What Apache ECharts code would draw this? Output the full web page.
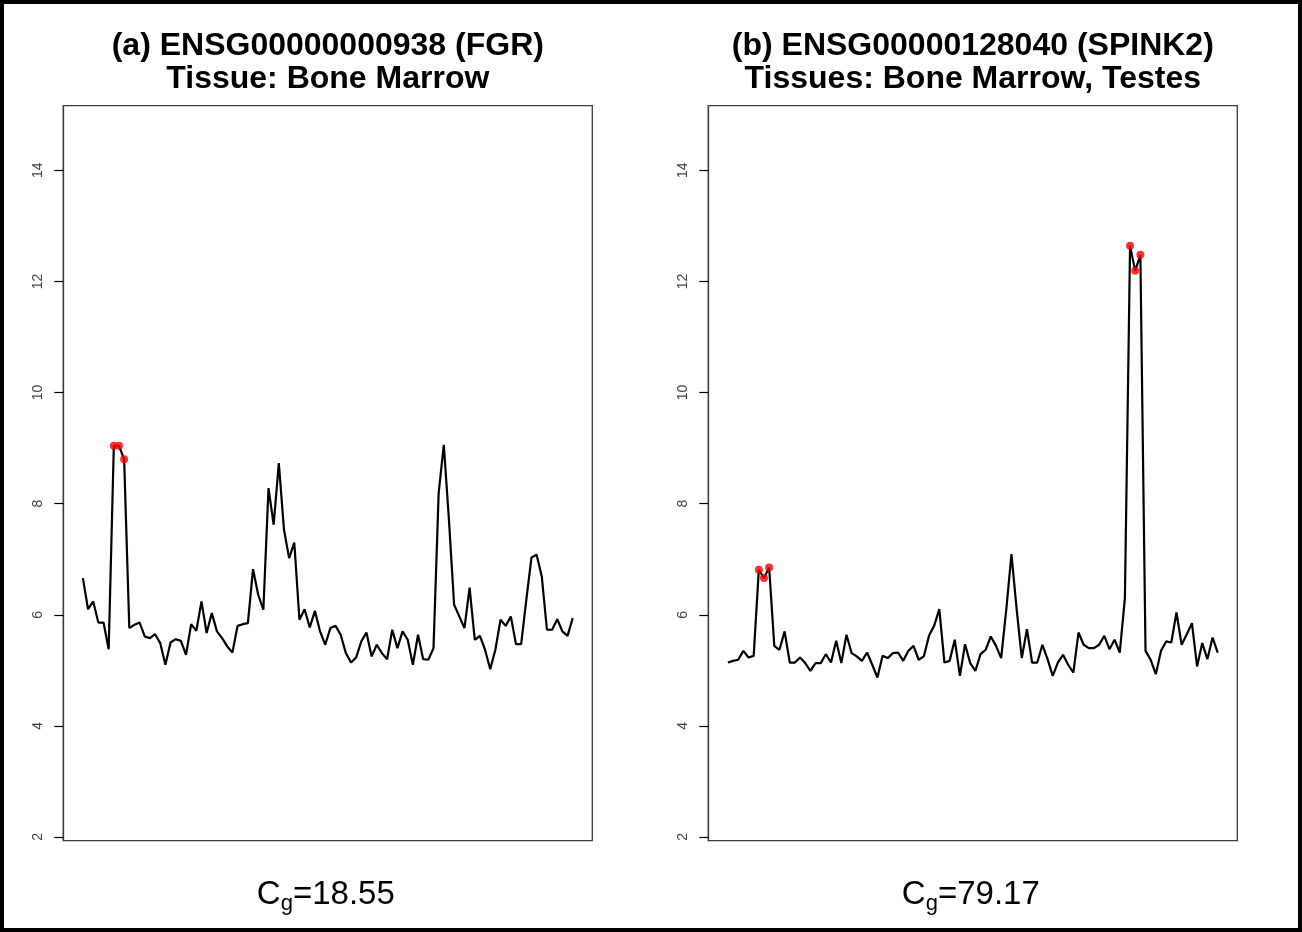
<!DOCTYPE html>
<html>
<head>
<meta charset="utf-8">
<script src="https://cdn.jsdelivr.net/npm/echarts@6/dist/echarts.min.js"></script>
<style>
  html, body { margin: 0; padding: 0; background: #fff; }
  #chart { width: 1302px; height: 932px; }
</style>
</head>
<body>
<div id="chart"></div>
<script>
// Expression profile of FGR across the 96 tissue samples
const fgrValues = [
  6.66, 6.10, 6.24, 5.86, 5.86, 5.38, 9.04, 9.04, 8.80, 5.76,
  5.82, 5.86, 5.61, 5.58, 5.65, 5.49, 5.10, 5.50, 5.56, 5.53,
  5.28, 5.83, 5.71, 6.24, 5.67, 6.03, 5.70, 5.58, 5.43, 5.32,
  5.80, 5.83, 5.85, 6.82, 6.36, 6.09, 8.28, 7.62, 8.73, 7.53,
  7.02, 7.30, 5.91, 6.10, 5.77, 6.07, 5.70, 5.46, 5.76, 5.80,
  5.64, 5.31, 5.14, 5.23, 5.52, 5.68, 5.25, 5.46, 5.31, 5.20,
  5.73, 5.40, 5.70, 5.55, 5.10, 5.64, 5.20, 5.19, 5.40, 8.19,
  9.06, 7.70, 6.18, 5.97, 5.76, 6.49, 5.55, 5.62, 5.37, 5.02,
  5.37, 5.91, 5.80, 5.97, 5.47, 5.47, 6.27, 7.03, 7.08, 6.69,
  5.73, 5.73, 5.92, 5.70, 5.62, 5.94
];

// Expression profile of SPINK2 across the same samples
const spink2Values = [
  5.14, 5.17, 5.19, 5.35, 5.23, 5.26, 6.81, 6.66, 6.85, 5.44,
  5.37, 5.70, 5.14, 5.14, 5.23, 5.13, 4.99, 5.13, 5.13, 5.29,
  5.14, 5.53, 5.13, 5.64, 5.31, 5.25, 5.17, 5.32, 5.10, 4.87,
  5.26, 5.22, 5.31, 5.32, 5.17, 5.35, 5.44, 5.19, 5.25, 5.62,
  5.80, 6.10, 5.14, 5.17, 5.55, 4.90, 5.47, 5.13, 4.99, 5.29,
  5.37, 5.61, 5.44, 5.22, 6.10, 7.09, 6.10, 5.22, 5.74, 5.14,
  5.14, 5.46, 5.20, 4.90, 5.14, 5.28, 5.10, 4.96, 5.68, 5.46,
  5.40, 5.40, 5.46, 5.62, 5.38, 5.55, 5.32, 6.30, 12.64, 12.19,
  12.48, 5.35, 5.19, 4.93, 5.35, 5.52, 5.50, 6.04, 5.46, 5.65,
  5.85, 5.07, 5.49, 5.20, 5.59, 5.32
];

// Samples (1-based) belonging to the highlighted tissues
const fgrMarked = [7, 8, 9];
const spink2Marked = [7, 8, 9, 79, 80, 81];

const yTicks = [2, 4, 6, 8, 10, 12, 14];

const panelTitles = [
  ['(a) ENSG00000000938 (FGR)', 'Tissue: Bone Marrow'],
  ['(b) ENSG00000128040 (SPINK2)', 'Tissues: Bone Marrow, Testes']
];
const cgValues = ['18.55', '79.17'];

const FONT = '"Liberation Sans", Arial, Helvetica, sans-serif';

// Plot region geometry
const boxTop = 105.7, boxH = 735, boxW = 529;
const boxLefts = [63.3, 708.3];
const nPts = fgrValues.length;
const xPad = 0.04 * (nPts - 1);
const yMin = 1.933, yMax = 15.163;

const chart = echarts.init(document.getElementById('chart'), null, { renderer: 'canvas' });

function gridDef(left) {
  return {
    left: left, top: boxTop, width: boxW, height: boxH,
    show: true, borderColor: '#3c3c3c', borderWidth: 1.3,
    backgroundColor: 'transparent', containLabel: false
  };
}
function xAxisDef(idx) {
  return { gridIndex: idx, type: 'value', min: 1 - xPad, max: nPts + xPad, show: false };
}
function yAxisDef(idx) {
  return {
    gridIndex: idx, type: 'value', min: yMin, max: yMax, position: 'left',
    axisLine: { show: true, onZero: false, lineStyle: { color: '#3c3c3c', width: 1.3 } },
    splitLine: { show: false },
    axisTick: {
      show: true, inside: false, length: 9, customValues: yTicks,
      lineStyle: { color: '#000', width: 1.2 }
    },
    axisLabel: {
      show: true, inside: false, customValues: yTicks, rotate: 90, margin: 18,
      fontSize: 14, color: '#444', fontFamily: FONT
    }
  };
}
function lineSeries(idx, vals) {
  return {
    type: 'line', xAxisIndex: idx, yAxisIndex: idx,
    data: vals.map((v, i) => [i + 1, v]),
    showSymbol: false, symbol: 'none',
    lineStyle: { color: '#000', width: 2.2 },
    animation: false, silent: true
  };
}
function markSeries(idx, vals, marked) {
  return {
    type: 'scatter', xAxisIndex: idx, yAxisIndex: idx,
    data: marked.map(k => [k, vals[k - 1]]),
    symbol: 'circle', symbolSize: 8,
    itemStyle: { color: '#ff0000' },
    animation: false, silent: true, z: 5
  };
}

// Measure text to lay out the "C_g=value" labels with a subscript
const measureCtx = document.createElement('canvas').getContext('2d');
function textWidth(str, font) { measureCtx.font = font; return measureCtx.measureText(str).width; }

const graphics = [];
// outer frame
graphics.push({
  type: 'rect', shape: { x: 2, y: 2, width: 1298, height: 928 },
  style: { fill: 'none', stroke: '#000', lineWidth: 4 }, silent: true, z: 10
});

[0, 1].forEach(p => {
  const cx = boxLefts[p] + boxW / 2;
  panelTitles[p].forEach((line, j) => {
    graphics.push({
      type: 'text', x: cx, y: 46 + j * 33,
      style: {
        text: line, textAlign: 'center', textVerticalAlign: 'middle',
        font: 'bold 32px ' + FONT, fill: '#000'
      }, silent: true
    });
  });
  const bigFont = '33px ' + FONT, smallFont = '22px ' + FONT;
  const rest = '=' + cgValues[p];
  const wC = textWidth('C', bigFont), wg = textWidth('g', smallFont), wr = textWidth(rest, bigFont);
  const x0 = cx - 2 - (wC + wg + wr) / 2;
  graphics.push({ type: 'text', x: x0, y: 895,
    style: { text: 'C', textAlign: 'left', textVerticalAlign: 'middle', font: bigFont, fill: '#000' }, silent: true });
  graphics.push({ type: 'text', x: x0 + wC, y: 904,
    style: { text: 'g', textAlign: 'left', textVerticalAlign: 'middle', font: smallFont, fill: '#000' }, silent: true });
  graphics.push({ type: 'text', x: x0 + wC + wg, y: 895,
    style: { text: rest, textAlign: 'left', textVerticalAlign: 'middle', font: bigFont, fill: '#000' }, silent: true });
});

chart.setOption({
  backgroundColor: '#ffffff',
  animation: false,
  grid: [gridDef(boxLefts[0]), gridDef(boxLefts[1])],
  xAxis: [xAxisDef(0), xAxisDef(1)],
  yAxis: [yAxisDef(0), yAxisDef(1)],
  series: [
    lineSeries(0, fgrValues),
    markSeries(0, fgrValues, fgrMarked),
    lineSeries(1, spink2Values),
    markSeries(1, spink2Values, spink2Marked)
  ],
  graphic: graphics
});
</script>
</body>
</html>
